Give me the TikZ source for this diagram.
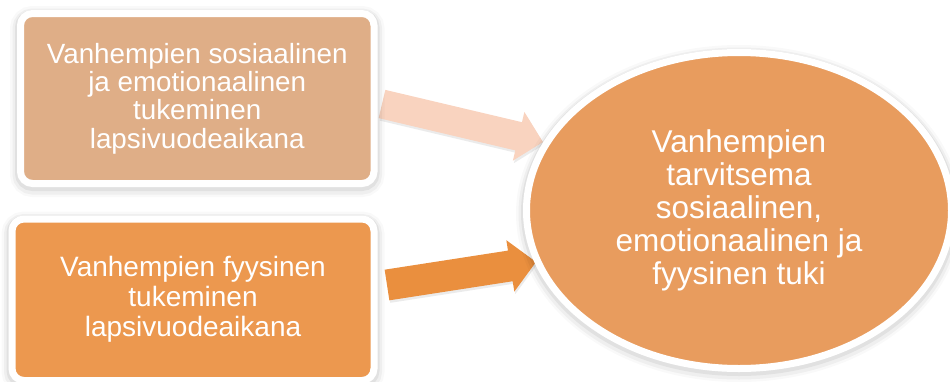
\documentclass[tikz,border=0pt]{standalone}
\usepackage{fontspec}
\setmainfont{Liberation Sans}
\usetikzlibrary{shapes.geometric}
\definecolor{boxA}{RGB}{223,174,135}
\definecolor{boxB}{RGB}{236,152,79}
\definecolor{ellC}{RGB}{232,156,94}
\definecolor{arrA}{RGB}{249,211,191}
\definecolor{arrB}{RGB}{234,143,62}
\tikzset{
  halo/.style={
    preaction={draw=black,draw opacity=0.025,line width=21pt,fill=none,transform canvas={yshift=-3pt}},
    preaction={draw=black,draw opacity=0.04,line width=16pt,fill=none,transform canvas={yshift=-3pt}},
    preaction={draw=black,draw opacity=0.06,line width=11pt,fill=none,transform canvas={yshift=-2pt}}},
  boxstyle/.style={draw=white,line width=7pt,rounded corners=12pt,inner sep=0pt,
    text=white,align=center,halo},
  bigell/.style={ellipse,draw=white,line width=7pt,inner sep=0pt,text=white,align=center,halo},
  blockarrow/.style={draw=none,
    preaction={fill=black,fill opacity=0.08,transform canvas={yshift=-2.5pt,xshift=1pt}}}
}
\begin{document}
\begin{tikzpicture}[x=1pt,y=-1pt]
\useasboundingbox (0,0) rectangle (950,381);
% arrows
\coordinate (a1tail) at (382,104);
\coordinate (a2tail) at (387,285);
\begin{scope}[shift={(a1tail)},rotate=-13.3]
  \fill[arrA,blockarrow] (0,-14.5) -- (140.4,-14.5) -- (140.4,-25) -- (165.4,0) -- (140.4,25) -- (140.4,14.5) -- (0,14.5) -- cycle;
\end{scope}
\begin{scope}[shift={(a2tail)},rotate=8.8]
  \fill[arrB,blockarrow] (0,-15.5) -- (124.8,-15.5) -- (124.8,-26) -- (150.8,0) -- (124.8,26) -- (124.8,15.5) -- (0,15.5) -- cycle;
\end{scope}
% boxes
\node[boxstyle,fill=boxA,minimum width=353.5pt,minimum height=170pt,
  font=\fontsize{27.8}{28.3}\selectfont] (b1) at (197.25,98.5)
  {Vanhempien sosiaalinen\\ja emotionaalinen\\tukeminen\\lapsivuodeaikana};
\node[boxstyle,fill=boxB,minimum width=362pt,minimum height=161.5pt,
  font=\fontsize{28}{30}\selectfont] (b2) at (193,299.75)
  {Vanhempien fyysinen\\tukeminen\\lapsivuodeaikana};
\node[bigell,fill=ellC,minimum width=425pt,minimum height=316pt,
  font=\fontsize{31.5}{33}\selectfont] (e) at (739,210.5)
  {Vanhempien\\tarvitsema\\sosiaalinen,\\emotionaalinen ja\\fyysinen tuki};
\end{tikzpicture}
\end{document}
